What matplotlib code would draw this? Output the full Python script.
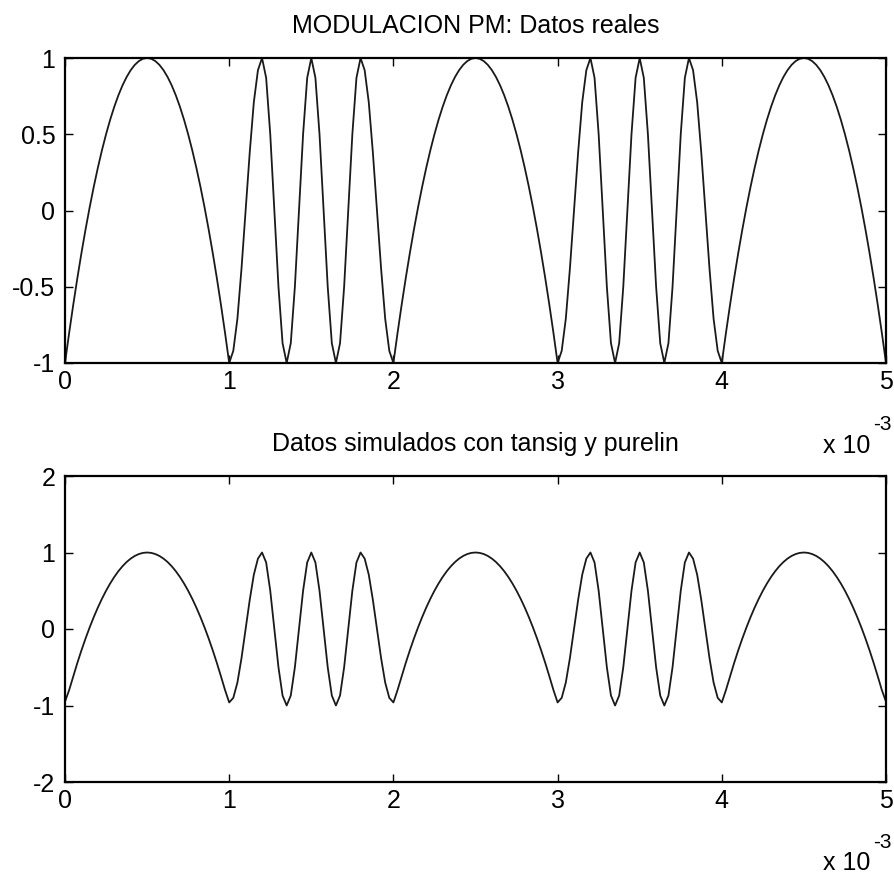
import numpy as np
import matplotlib
matplotlib.use("Agg")
import matplotlib.pyplot as plt

plt.rcParams['font.family'] = ['Liberation Sans', 'DejaVu Sans']

# PM signal samples (every 0.025 ms, 0 to 5 ms)
real_signal = [
    -1, -0.805, -0.62, -0.445, -0.28, -0.125, 0.02, 0.155, 0.28, 0.395, 0.5,
    0.595, 0.68, 0.755, 0.82, 0.875, 0.92, 0.955, 0.98, 0.995, 1,
    0.995, 0.98, 0.955, 0.92, 0.875, 0.82, 0.755, 0.68, 0.595, 0.5,
    0.395, 0.28, 0.155, 0.02, -0.125, -0.28, -0.445, -0.62, -0.805, -1,
    -0.92, -0.71, -0.38, 0, 0.38, 0.71, 0.92, 1,
    0.87, 0.5, 0, -0.5, -0.87, -1,
    -0.87, -0.5, 0, 0.5, 0.87, 1,
    0.87, 0.5, 0, -0.5, -0.87, -1,
    -0.87, -0.5, 0, 0.5, 0.87, 1,
    0.92, 0.71, 0.38, 0, -0.38, -0.71, -0.92, -1,
    -0.805, -0.62, -0.445, -0.28, -0.125, 0.02, 0.155, 0.28, 0.395, 0.5,
    0.595, 0.68, 0.755, 0.82, 0.875, 0.92, 0.955, 0.98, 0.995, 1,
    0.995, 0.98, 0.955, 0.92, 0.875, 0.82, 0.755, 0.68, 0.595, 0.5,
    0.395, 0.28, 0.155, 0.02, -0.125, -0.28, -0.445, -0.62, -0.805, -1,
    -0.92, -0.71, -0.38, 0, 0.38, 0.71, 0.92, 1,
    0.87, 0.5, 0, -0.5, -0.87, -1,
    -0.87, -0.5, 0, 0.5, 0.87, 1,
    0.87, 0.5, 0, -0.5, -0.87, -1,
    -0.87, -0.5, 0, 0.5, 0.87, 1,
    0.92, 0.71, 0.38, 0, -0.38, -0.71, -0.92, -1,
    -0.805, -0.62, -0.445, -0.28, -0.125, 0.02, 0.155, 0.28, 0.395, 0.5,
    0.595, 0.68, 0.755, 0.82, 0.875, 0.92, 0.955, 0.98, 0.995, 1,
    0.995, 0.98, 0.955, 0.92, 0.875, 0.82, 0.755, 0.68, 0.595, 0.5,
    0.395, 0.28, 0.155, 0.02, -0.125, -0.28, -0.445, -0.62, -0.805, -1,
]

# network output (tansig + purelin), same sampling
sim_signal = [
    -0.95, -0.8, -0.62, -0.445, -0.28, -0.125, 0.02, 0.155, 0.28, 0.395, 0.5,
    0.595, 0.68, 0.755, 0.82, 0.875, 0.92, 0.955, 0.98, 0.995, 1,
    0.995, 0.98, 0.955, 0.92, 0.875, 0.82, 0.755, 0.68, 0.595, 0.5,
    0.395, 0.28, 0.155, 0.02, -0.125, -0.28, -0.445, -0.62, -0.8, -0.96,
    -0.9, -0.7, -0.38, 0, 0.38, 0.71, 0.92, 1,
    0.87, 0.5, 0, -0.5, -0.87, -1,
    -0.87, -0.5, 0, 0.5, 0.87, 1,
    0.87, 0.5, 0, -0.5, -0.87, -1,
    -0.87, -0.5, 0, 0.5, 0.87, 1,
    0.92, 0.71, 0.38, 0, -0.38, -0.7, -0.9, -0.96,
    -0.8, -0.62, -0.445, -0.28, -0.125, 0.02, 0.155, 0.28, 0.395, 0.5,
    0.595, 0.68, 0.755, 0.82, 0.875, 0.92, 0.955, 0.98, 0.995, 1,
    0.995, 0.98, 0.955, 0.92, 0.875, 0.82, 0.755, 0.68, 0.595, 0.5,
    0.395, 0.28, 0.155, 0.02, -0.125, -0.28, -0.445, -0.62, -0.8, -0.96,
    -0.9, -0.7, -0.38, 0, 0.38, 0.71, 0.92, 1,
    0.87, 0.5, 0, -0.5, -0.87, -1,
    -0.87, -0.5, 0, 0.5, 0.87, 1,
    0.87, 0.5, 0, -0.5, -0.87, -1,
    -0.87, -0.5, 0, 0.5, 0.87, 1,
    0.92, 0.71, 0.38, 0, -0.38, -0.7, -0.9, -0.96,
    -0.8, -0.62, -0.445, -0.28, -0.125, 0.02, 0.155, 0.28, 0.395, 0.5,
    0.595, 0.68, 0.755, 0.82, 0.875, 0.92, 0.955, 0.98, 0.995, 1,
    0.995, 0.98, 0.955, 0.92, 0.875, 0.82, 0.755, 0.68, 0.595, 0.5,
    0.395, 0.28, 0.155, 0.02, -0.125, -0.28, -0.445, -0.62, -0.8, -0.95,
]

x_ticks = [0, 0.001, 0.002, 0.003, 0.004, 0.005]
x_tick_labels = ['0', '1', '2', '3', '4', '5']
y1_ticks = [-1, -0.5, 0, 0.5, 1]
y1_tick_labels = ['-1', '-0.5', '0', '0.5', '1']
y2_ticks = [-2, -1, 0, 1, 2]
y2_tick_labels = ['-2', '-1', '0', '1', '2']
titles = ['MODULACION PM: Datos reales', 'Datos simulados con tansig y purelin']

t = np.linspace(0, 0.005, len(real_signal))

W, H = 895, 876
fig = plt.figure(figsize=(W / 100, H / 100), dpi=100)


def px_axes(left, top, right, bottom):
    return fig.add_axes([left / W, 1 - bottom / H, (right - left) / W, (bottom - top) / H])


ax1 = px_axes(65, 58, 886, 363)
ax2 = px_axes(65, 476, 886, 782)

FS = 18
for ax, y, yt, ytl, ttl, ylim in [
    (ax1, real_signal, y1_ticks, y1_tick_labels, titles[0], (-1, 1)),
    (ax2, sim_signal, y2_ticks, y2_tick_labels, titles[1], (-2, 2)),
]:
    ax.plot(t, y, color='#1a1a1a', lw=1.3)
    ax.set_xlim(0, 0.005)
    ax.set_ylim(*ylim)
    ax.set_xticks(x_ticks)
    ax.set_xticklabels(x_tick_labels)
    ax.set_yticks(yt)
    ax.set_yticklabels(ytl)
    ax.tick_params(direction='in', top=True, right=True, length=5.5, width=1,
                   labelsize=FS, colors='black')
    ax.tick_params(axis='x', pad=5)
    ax.tick_params(axis='y', pad=7)
    for s in ax.spines.values():
        s.set_linewidth(1.6)
    ax.set_title(ttl, fontsize=FS, pad=18)

# MATLAB-style exponent labels for the time axes
for base_y, sup_y in [(453, 430), (870, 848)]:
    fig.text(870 / W, 1 - base_y / H, 'x 10', fontsize=FS, ha='right', va='baseline')
    fig.text(873 / W, 1 - sup_y / H, '-3', fontsize=15, ha='left', va='baseline')

fig.savefig('out.png', dpi=100)
